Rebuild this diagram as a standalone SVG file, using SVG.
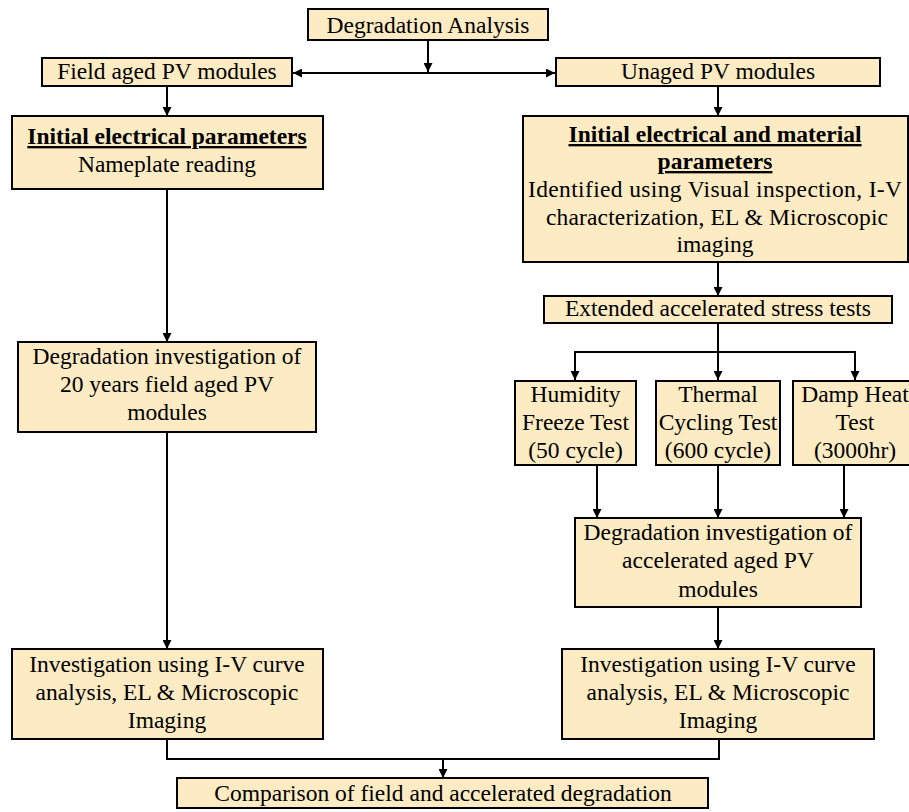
<svg xmlns="http://www.w3.org/2000/svg" width="909" height="812" viewBox="0 0 909 812" font-family="'Liberation Serif', 'Times New Roman', Times, 'DejaVu Serif', serif">
<style>
.box{fill:#FDEBC3;stroke:#000;stroke-width:2}
text{font-family:'Liberation Serif','Times New Roman',Times,'DejaVu Serif',serif;font-size:23.5px;fill:#000;text-anchor:middle}
.b{font-weight:bold;text-decoration:underline}
.c{fill:none;stroke:#000;stroke-width:2}
.a{marker-end:url(#arr)}
</style>
<defs>
<marker id="arr" viewBox="0 0 10 10" refX="10" refY="5" markerWidth="4.5" markerHeight="4.5" orient="auto" markerUnits="strokeWidth">
<path d="M0,0 L10,5 L0,10 z" fill="#000"/>
</marker>
</defs>
<g id="connectors">
<path class="c a" d="M428,40 V72"/>
<path class="c a" d="M428,73 H293"/>
<path class="c a" d="M428,73 H555"/>
<path class="c a" d="M167,86 V116"/>
<path class="c a" d="M718,86 V116"/>
<path class="c a" d="M167,189 V342"/>
<path class="c a" d="M167,432 V649"/>
<path class="c a" d="M718,262 V296"/>
<path class="c" d="M718,323 V352 M575,352 H855"/>
<path class="c a" d="M575,351 V380"/>
<path class="c a" d="M718,352 V380"/>
<path class="c a" d="M855,351 V380"/>
<path class="c a" d="M597,465 V518"/>
<path class="c a" d="M718,465 V518"/>
<path class="c a" d="M844,465 V518"/>
<path class="c a" d="M718,607 V649"/>
<path class="c" d="M167,739 V759 H719 V739"/>
<path class="c a" d="M443,759 V778"/>
</g>
<g id="n1"><rect class="box" x="308" y="9" width="240" height="31"/><text x="428" y="33">Degradation Analysis</text></g>
<g id="n2"><rect class="box" x="42" y="58" width="250" height="28"/><text x="167" y="79">Field aged PV modules</text></g>
<g id="n3"><rect class="box" x="556" y="58" width="324" height="28"/><text x="718" y="79">Unaged PV modules</text></g>
<g id="n4"><rect class="box" x="12" y="116" width="311" height="73"/><text class="b" x="167" y="144">Initial electrical parameters</text><text x="167" y="172">Nameplate reading</text></g>
<g id="n5"><rect class="box" x="523" y="116" width="385" height="146"/>
<text class="b" x="715" y="142">Initial electrical and material</text>
<text class="b" x="715" y="169">parameters</text>
<text x="715" y="197" textLength="374">Identified using Visual inspection, I-V</text>
<text x="717" y="225" textLength="342">characterization, EL &amp; Microscopic</text>
<text x="715" y="252">imaging</text></g>
<g id="n6"><rect class="box" x="544" y="296" width="348" height="27"/><text x="718" y="316">Extended accelerated stress tests</text></g>
<g id="n7"><rect class="box" x="18" y="342" width="298" height="90"/>
<text x="167" y="364">Degradation investigation of</text>
<text x="167" y="392">20 years field aged PV</text>
<text x="167" y="420">modules</text></g>
<g id="n8"><rect class="box" x="515" y="381" width="121" height="84"/>
<text x="575.5" y="402">Humidity</text>
<text x="575.5" y="430">Freeze Test</text>
<text x="575.5" y="458">(50 cycle)</text></g>
<g id="n9"><rect class="box" x="656" y="381" width="124" height="84"/>
<text x="718" y="402">Thermal</text>
<text x="718" y="430">Cycling Test</text>
<text x="718" y="458">(600 cycle)</text></g>
<g id="n10"><rect class="box" x="793" y="381" width="124" height="84"/>
<text x="855" y="402">Damp Heat</text>
<text x="855" y="430">Test</text>
<text x="855" y="458">(3000hr)</text></g>
<g id="n11"><rect class="box" x="575" y="518" width="286" height="89"/>
<text x="718" y="540">Degradation investigation of</text>
<text x="718" y="568">accelerated aged PV</text>
<text x="718" y="597">modules</text></g>
<g id="n12"><rect class="box" x="12" y="649" width="311" height="90"/>
<text x="167" y="672">Investigation using I-V curve</text>
<text x="167" y="700">analysis, EL &amp; Microscopic</text>
<text x="167" y="728">Imaging</text></g>
<g id="n13"><rect class="box" x="562" y="649" width="312" height="90"/>
<text x="718" y="672">Investigation using I-V curve</text>
<text x="718" y="700">analysis, EL &amp; Microscopic</text>
<text x="718" y="728">Imaging</text></g>
<g id="n14"><rect class="box" x="177" y="778" width="531" height="30"/><text x="443" y="801">Comparison of field and accelerated degradation</text></g>
</svg>
